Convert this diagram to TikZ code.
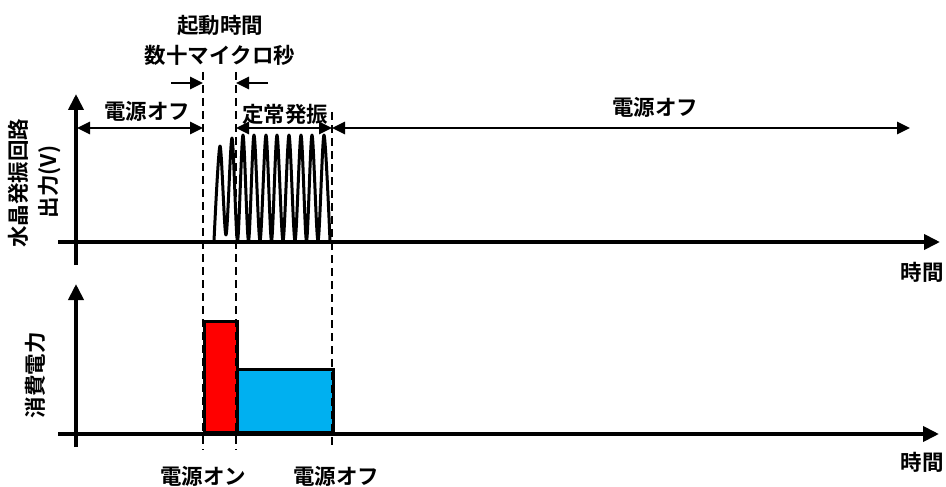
\documentclass[tikz,border=0pt]{standalone}
\usepackage{fontspec}
\setmainfont{Noto Sans CJK JP}[BoldFont={Noto Sans CJK JP Bold}]
\usetikzlibrary{arrows.meta}
\definecolor{redbar}{RGB}{255,0,0}
\definecolor{bluebar}{RGB}{0,176,240}
\begin{document}
\begin{tikzpicture}[x=1pt,y=-1pt,
  lbl/.style={font=\fontsize{21.5}{25}\selectfont\bfseries, inner sep=0pt},
  axis/.style={line width=3.8pt, -{Triangle[length=16pt,width=15pt]}},
  dim/.style={line width=2.6pt, {Triangle[length=13pt,width=12pt]}-{Triangle[length=13pt,width=12pt]}},
  onearrow/.style={line width=2.6pt, -{Triangle[length=13pt,width=12pt]}},
  guide/.style={line width=2.4pt, dash pattern=on 8pt off 5pt},
  wave/.style={line width=3pt, line join=round},
  bar/.style={draw=black, line width=3pt}]
\useasboundingbox (0,0) rectangle (946,487);

% coordinates
\coordinate (tyb) at (76,265);  \coordinate (tyt) at (76,94);
\coordinate (txl) at (58,242);  \coordinate (txr) at (940,242);
\coordinate (byb) at (76,447);  \coordinate (byt) at (76,284);
\coordinate (bxl) at (58,434);  \coordinate (bxr) at (939,434);
\coordinate (d1t) at (203,72);  \coordinate (d1b) at (203,450);
\coordinate (d2t) at (236,72);  \coordinate (d2b) at (236,450);
\coordinate (d3t) at (332,112); \coordinate (d3b) at (332,445);
\coordinate (a0) at (77,128);   \coordinate (a1) at (203,128);
\coordinate (a2) at (236,128);  \coordinate (a3) at (332,128);
\coordinate (a4) at (910,128);
\coordinate (s1) at (171,83);   \coordinate (s2) at (203,83);
\coordinate (s3) at (268,83);   \coordinate (s4) at (236,83);

% bars
\node[bar, fill=redbar, minimum width=33pt, minimum height=111pt, inner sep=0pt, anchor=south west] (redb) at (203,434) {};
\node[bar, fill=bluebar, minimum width=96pt, minimum height=63pt, inner sep=0pt, anchor=south west] (blueb) at (236,434) {};

% dashed guides
\draw[guide] (d1t) -- (d1b);
\draw[guide] (d2t) -- (d2b);
\draw[guide] (d3t) -- (d3b);

% axes
\draw[axis] (tyb) -- (tyt);
\draw[axis] (txl) -- (txr);
\draw[axis] (byb) -- (byt);
\draw[axis] (bxl) -- (bxr);

% dimension arrows
\draw[dim] (a0) -- (a1);
\draw[dim] (a2) -- (a3);
\draw[dim] (a3) -- (a4);
\draw[onearrow] (s1) -- (s2);
\draw[onearrow] (s3) -- (s4);

% oscillation
\draw[wave] plot[smooth, tension=0.5] coordinates {
 (214,241) (220,146) (226,235) (232,138) (237.5,241) (243,135) (248.5,241)
 (254,135) (260,241) (266,135) (271.5,241) (277,135) (283,241) (289,135)
 (295,241) (301,135) (306.5,241) (312,135) (318,241) (324,135) (330,241)};

% labels
\node[lbl] (t1) at (220,25) {起動時間};
\node[lbl] (t2) at (220,55) {数十マイクロ秒};
\node[lbl] (off1) at (147,111) {電源オフ};
\node[lbl] (st) at (285,114) {定常発振};
\node[lbl] (off2) at (655,107) {電源オフ};
\node[lbl] (time1) at (922,272) {時間};
\node[lbl] (time2) at (922,462) {時間};
\node[lbl] (on) at (203,476) {電源オン};
\node[lbl] (off3) at (336,476) {電源オフ};
\node[lbl, rotate=90] (yl1) at (18,183) {水晶発振回路};
\node[lbl, rotate=90] (yl2) at (50,182) {出力(V)};
\node[lbl, rotate=90] (yl3) at (35,375) {消費電力};
\end{tikzpicture}
\end{document}
